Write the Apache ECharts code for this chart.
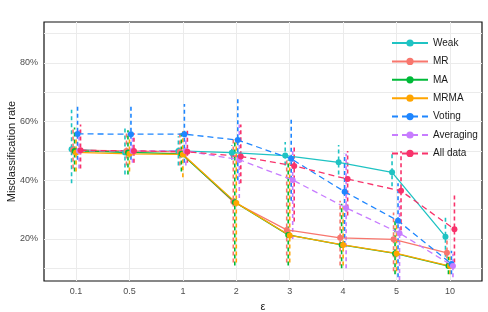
<!DOCTYPE html>
<html><head><meta charset="utf-8">
<script src="https://cdn.jsdelivr.net/npm/echarts@6/dist/echarts.min.js"></script>
<style>html,body{margin:0;padding:0;background:#fff}#c{width:488px;height:312px}</style>
</head><body><div id="c"></div>
<script>
const categories = ['0.1','0.5','1','2','3','4','5','10'];
const seriesNames = ['Weak','MR','MA','MRMA','Voting','Averaging','All data'];
const colors = ['#1FC3C3','#F8766D','#00BA38','#FFA500','#1E86FF','#C77CFF','#F8336B'];
const dashed = [false,false,false,false,true,true,true];

const weak      = [0.506,0.495,0.500,0.494,0.484,0.461,0.427,0.208];
const mr        = [0.503,0.500,0.497,0.327,0.231,0.204,0.199,0.153];
const ma        = [0.500,0.495,0.490,0.325,0.214,0.180,0.151,0.108];
const mrma      = [0.495,0.490,0.488,0.323,0.212,0.180,0.151,0.108];
const voting    = [0.558,0.557,0.557,0.537,0.473,0.361,0.262,0.115];
const averaging = [0.500,0.500,0.500,0.470,0.401,0.306,0.220,0.108];
const allData   = [0.502,0.500,0.497,0.481,0.449,0.404,0.364,0.233];

const weakLo      = [0.39,0.42,0.45,0.47,0.45,0.42,0.38,0.14];
const weakHi      = [0.64,0.58,0.55,0.52,0.53,0.52,0.50,0.28];
const mrLo        = [0.44,0.45,0.45,0.12,0.12,0.11,0.09,0.11];
const mrHi        = [0.58,0.56,0.56,0.54,0.47,0.33,0.29,0.20];
const maLo        = [0.43,0.42,0.43,0.11,0.11,0.10,0.08,0.08];
const maHi        = [0.58,0.57,0.56,0.54,0.47,0.32,0.27,0.14];
const mrmaLo      = [0.43,0.43,0.41,0.12,0.12,0.11,0.09,0.08];
const mrmaHi      = [0.57,0.56,0.57,0.53,0.46,0.31,0.27,0.14];
const votingLo    = [0.47,0.47,0.46,0.40,0.33,0.18,0.07,0.08];
const votingHi    = [0.65,0.65,0.66,0.68,0.61,0.49,0.39,0.16];
const averagingLo = [0.44,0.46,0.45,0.34,0.20,0.10,0.06,0.07];
const averagingHi = [0.57,0.56,0.56,0.59,0.50,0.49,0.33,0.15];
const allDataLo   = [0.44,0.46,0.46,0.39,0.26,0.28,0.23,0.12];
const allDataHi   = [0.59,0.56,0.57,0.59,0.52,0.50,0.50,0.35];

const yTicks = [0.1,0.2,0.3,0.4,0.5,0.6,0.7,0.8,0.9];
const yLabels = [0.2,0.4,0.6,0.8];

const means = [weak,mr,ma,mrma,voting,averaging,allData];
const los = [weakLo,mrLo,maLo,mrmaLo,votingLo,averagingLo,allDataLo];
const his = [weakHi,mrHi,maHi,mrmaHi,votingHi,averagingHi,allDataHi];
const dodge = 0.028;
const catIdx = categories.map((c,i)=>i);

const series = [];
seriesNames.forEach((name, s) => {
  const off = (s - 3) * dodge;
  series.push({
    name: 'eb-' + name, type: 'custom', z: 1, silent: true,
    data: catIdx.map(i => [i + off, los[s][i], his[s][i]]),
    encode: {x: 0, y: [1, 2]},
    renderItem: (params, api) => {
      const p1 = api.coord([api.value(0), api.value(1)]);
      const p2 = api.coord([api.value(0), api.value(2)]);
      return {type: 'line', shape: {x1: p1[0], y1: p1[1], x2: p2[0], y2: p2[1]},
        style: {stroke: colors[s], lineWidth: 1.6, lineDash: [4, 3]}};
    }
  });
});
seriesNames.forEach((name, s) => {
  const off = (s - 3) * dodge;
  series.push({
    name: name, type: 'line', z: 3,
    data: catIdx.map(i => [i + off, means[s][i]]),
    symbol: 'circle', symbolSize: 6,
    itemStyle: {color: colors[s]},
    lineStyle: {color: colors[s], width: 1.3, type: dashed[s] ? [6, 4] : 'solid'},
    emphasis: {disabled: true}
  });
});

const chart = echarts.init(document.getElementById('c'), null, {renderer: 'canvas'});
chart.setOption({
  animation: false,
  backgroundColor: '#fff',
  textStyle: {fontFamily: 'Liberation Sans'},
  color: colors,
  grid: {left: 44, right: 6, top: 22, bottom: 31, containLabel: false, outerBoundsMode: 'none',
    show: true, borderColor: '#111', borderWidth: 1.2, backgroundColor: 'transparent'},
  legend: {
    data: seriesNames, orient: 'vertical', left: 386, top: 33,
    itemWidth: 36, itemHeight: 9, itemGap: 8.4,
    textStyle: {fontSize: 10, color: '#1a1a1a', fontFamily: 'Liberation Sans'}
  },
  xAxis: {
    type: 'value', min: -0.6, max: 7.6,
    name: 'ε', nameLocation: 'middle', nameGap: 20, nameMoveOverlap: false,
    nameTextStyle: {fontSize: 11, color: '#1a1a1a'},
    axisLine: {show: false}, axisTick: {show: false, customValues: catIdx},
    axisLabel: {customValues: catIdx, fontSize: 9, color: '#4d4d4d', margin: 6,
      formatter: v => categories[Math.round(v)]},
    splitLine: {show: true, lineStyle: {color: '#ebebeb', width: 1}}
  },
  yAxis: {
    type: 'value', min: 0.057, max: 0.939,
    name: 'Misclassification rate', nameLocation: 'middle', nameGap: 27, nameMoveOverlap: false,
    nameTextStyle: {fontSize: 11, color: '#1a1a1a'},
    axisLine: {show: false}, axisTick: {show: false, customValues: yTicks},
    axisLabel: {customValues: yLabels, fontSize: 9, color: '#4d4d4d', margin: 6,
      formatter: v => Math.round(v * 100) + '%'},
    splitLine: {show: true, lineStyle: {color: '#ebebeb', width: 1}}
  },
  series: series
});
</script></body></html>
